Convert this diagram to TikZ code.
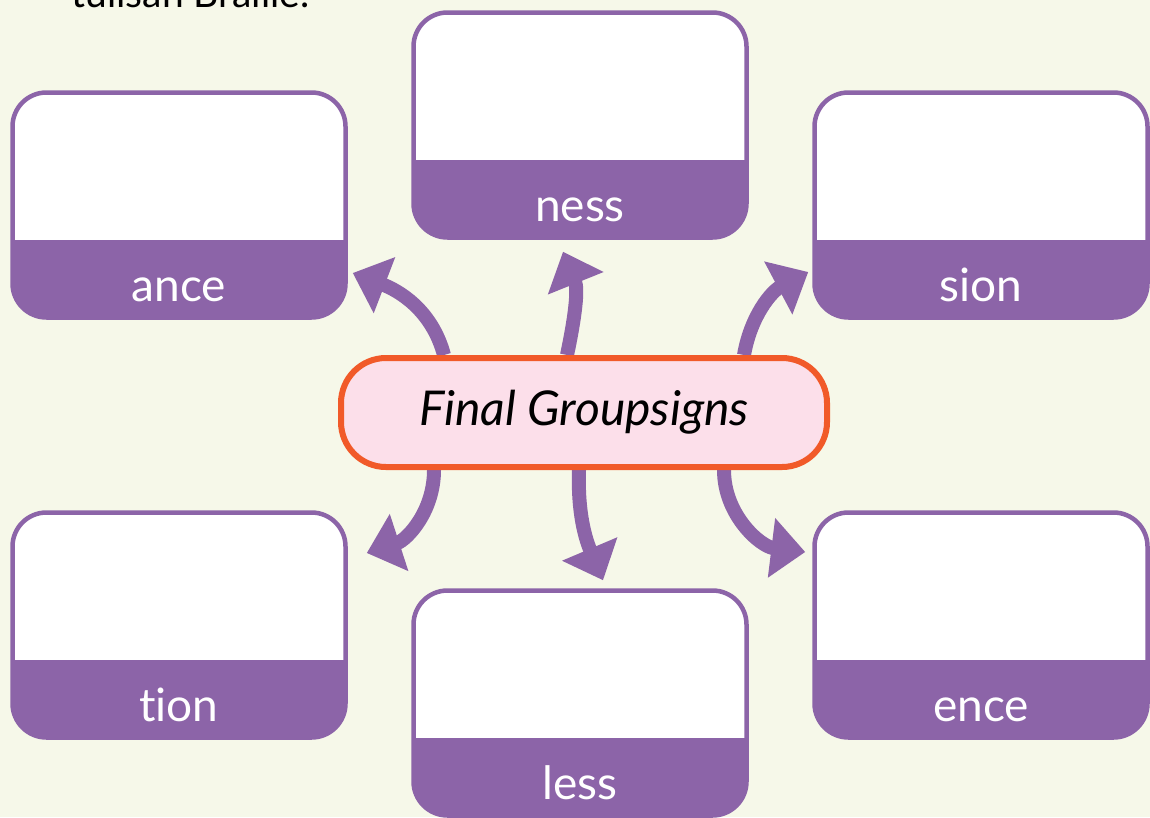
\documentclass[tikz,border=0pt]{standalone}
\usepackage{fontspec}
\setmainfont{Lato}[Ligatures=NoCommon]
\usetikzlibrary{arrows.meta}
\definecolor{paper}{HTML}{F6F8E9}
\definecolor{grp}{HTML}{8C64A8}
\definecolor{rim}{HTML}{F15A29}
\definecolor{blush}{HTML}{FCDFEA}
\pgfdeclarelayer{bg}
\pgfdeclarelayer{links}
\pgfsetlayers{bg,links,main}

\begin{document}
\begin{tikzpicture}[x=1pt, y=1pt,
    slot/.style = {draw=grp, line width=4.5pt, fill=white, rounded corners=34pt,
        minimum width=333pt, minimum height=225pt, inner sep=0pt,
        path picture={\fill[grp, sharp corners] ([yshift=78pt]path picture bounding box.south west) rectangle (path picture bounding box.south east);}},
    tag/.style = {text=white, font=\fontsize{46}{46}\selectfont, anchor=base, yshift=18pt},
    link/.style = {draw=grp, line width=14pt, -{Triangle[length=34pt,width=58pt]}}]
        \useasboundingbox (0,0) rectangle (1150,-817);
        \clip (0,0) rectangle (1150,-817);
        \begin{pgfonlayer}{bg}
            \fill[paper] (0,0) rectangle (1150,-817);
        \end{pgfonlayer}

        \node[anchor=base west, font=\fontsize{39}{39}\selectfont] (note) at (68,-7) {tulisan Braille.};

        \node[slot, label={[tag]below:ance}] (ance) at (179,-205) {};
        \node[slot, label={[tag]below:ness}] (ness) at (580,-125) {};
        \node[slot, label={[tag]below:sion}] (sion) at (981,-205) {};
        \node[slot, label={[tag]below:tion}] (tion) at (179,-625) {};
        \node[slot, label={[tag]below:less}] (less) at (580,-703) {};
        \node[slot, label={[tag]below:ence}] (ence) at (981,-625) {};

        \node[draw=rim, line width=6pt, fill=blush, rounded corners=45pt,
            minimum width=486pt, minimum height=109pt,
            font=\itshape\fontsize{48}{48}\selectfont] (hub) at (584,-412.5) {Final Groupsigns};

        \begin{pgfonlayer}{links}
            \draw[link] ([xshift=-140pt]hub.north) to [out=105,in=-21] ([shift={(5,-68)}]ance.east);
            \draw[link] ([xshift=-17pt]hub.north) to [out=78,in=-68] ([shift={(-17,-12)}]ness.south);
            \draw[link] ([xshift=160pt]hub.north) to [out=80,in=-152] ([shift={(-4,-67)}]sion.west);
            \draw[link] ([xshift=-150pt]hub.south) to [out=-90,in=18] ([shift={(19,72)}]tion.east);
            \draw[link] ([xshift=-5pt]hub.south) to [out=-92,in=113] ([shift={(23,8)}]less.north);
            \draw[link] ([xshift=140pt]hub.south) to [out=-90,in=173] ([shift={(-7,73)}]ence.west);
        \end{pgfonlayer}
    \end{tikzpicture}
\end{document}
